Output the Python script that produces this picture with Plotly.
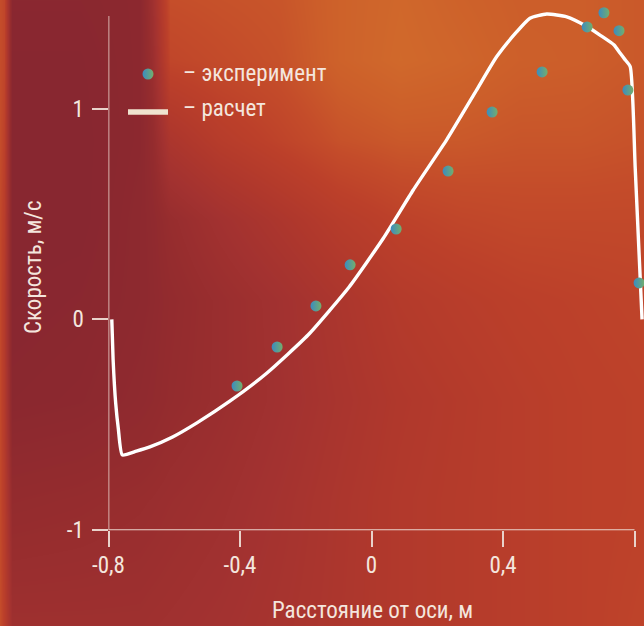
import plotly.graph_objects as go

# ---------------- data ----------------
exp_x = [-0.409, -0.287, -0.169, -0.065, 0.075, 0.233, 0.367, 0.519, 0.656, 0.707, 0.753, 0.780, 0.814]
exp_y = [-0.316, -0.131, 0.064, 0.259, 0.429, 0.704, 0.984, 1.174, 1.388, 1.455, 1.370, 1.088, 0.173]

calc_x = [-0.790, -0.786, -0.778, -0.770, -0.758, -0.715, -0.674, -0.605, -0.531, -0.430,
          -0.318, -0.193, -0.068, 0.036, 0.127, 0.229, 0.320, 0.381, 0.442, 0.482,
          0.533, 0.594, 0.653, 0.695, 0.738, 0.756, 0.770, 0.787, 0.802, 0.823]
calc_y = [0.000, -0.190, -0.400, -0.520, -0.643, -0.625, -0.605, -0.558, -0.491, -0.387,
          -0.254, -0.074, 0.154, 0.385, 0.614, 0.853, 1.089, 1.247, 1.365, 1.429,
          1.449, 1.436, 1.392, 1.349, 1.302, 1.264, 1.235, 1.199, 0.724, 0.000]

x_tickvals = [-0.8, -0.4, 0, 0.4, 0.8]
x_ticktext = ["-0,8", "-0,4", "0", "0,4", "0,8"]
y_tickvals = [-1, 0, 1]
y_ticktext = ["-1", "0", "1"]

x_title = "Расстояние от оси, м"
y_title = "Скорость, м/с"
legend_labels = ["– эксперимент", "– расчет"]

# ---------------- background (style only) ----------------
W, H = 644, 626
bg_cols = [0, 4, 12, 80, 140, 152, 170, 220, 280, 340, 400, 460, 520, 580, 644]
bg_rows = [0, 60, 140, 220, 300, 400, 500, 626]
bg_z = [
    [0.75, 0.70, 0.05, 0.05, 0.08, 0.30, 0.76, 0.78, 0.80, 0.88, 0.92, 0.88, 0.85, 0.85, 0.82],
    [0.75, 0.70, 0.03, 0.03, 0.08, 0.25, 0.70, 0.74, 0.78, 0.88, 0.93, 0.90, 0.86, 0.85, 0.82],
    [0.75, 0.65, 0.02, 0.02, 0.08, 0.18, 0.45, 0.58, 0.68, 0.78, 0.82, 0.82, 0.80, 0.80, 0.78],
    [0.72, 0.60, 0.02, 0.02, 0.10, 0.13, 0.22, 0.34, 0.46, 0.58, 0.66, 0.70, 0.72, 0.72, 0.72],
    [0.72, 0.55, 0.03, 0.05, 0.10, 0.12, 0.17, 0.25, 0.34, 0.45, 0.55, 0.60, 0.64, 0.66, 0.68],
    [0.72, 0.55, 0.06, 0.08, 0.13, 0.15, 0.19, 0.25, 0.33, 0.42, 0.50, 0.55, 0.60, 0.64, 0.66],
    [0.72, 0.58, 0.18, 0.20, 0.23, 0.24, 0.26, 0.30, 0.37, 0.45, 0.52, 0.56, 0.60, 0.64, 0.66],
    [0.75, 0.62, 0.30, 0.30, 0.30, 0.31, 0.32, 0.35, 0.40, 0.46, 0.52, 0.56, 0.60, 0.64, 0.68],
]
bg_scale = [[0.0, "#862630"], [0.2, "#952c2e"], [0.35, "#a33230"], [0.5, "#b0382c"],
            [0.65, "#bc402a"], [0.75, "#c44c2a"], [0.85, "#cc5e2a"], [1.0, "#d4722c"]]

FONT = "Liberation Sans Narrow, Roboto Condensed, DejaVu Sans Condensed, sans-serif"
TXT = "#f4e6de"
AXC = "#e9d3cb"

# plot area geometry (pixels)
left_px, right_px = 108.5, 644.0
bottom_px, top_px = 530.15, 4.0
x_unit = 328.75
y_unit = 210.75
x_range = [-0.8, -0.8 + (right_px - left_px) / x_unit]
y_range = [-1.0, -1.0 + (bottom_px - top_px) / y_unit]

fig = go.Figure()

fig.add_trace(go.Heatmap(
    x=bg_cols, y=bg_rows, z=bg_z, colorscale=bg_scale, zmin=0, zmax=1,
    zsmooth="best", showscale=False, hoverinfo="skip",
    xaxis="x", yaxis="y"))

# legend marker (pixel coordinates on background axes)
fig.add_trace(go.Scatter(
    x=[148], y=[74], mode="markers", showlegend=False, hoverinfo="skip",
    marker=dict(size=11, color="#3a8cc0",
                gradient=dict(type="horizontal", color="#74ae6c"),
                line=dict(width=0)),
    xaxis="x", yaxis="y"))

fig.add_trace(go.Scatter(
    x=calc_x, y=calc_y, mode="lines", name="расчет",
    line=dict(color="white", width=3.4, shape="spline", smoothing=0.5),
    xaxis="x2", yaxis="y2", cliponaxis=False, showlegend=False))

fig.add_trace(go.Scatter(
    x=exp_x, y=exp_y, mode="markers", name="эксперимент",
    marker=dict(size=11, color="#3a8cc0",
                gradient=dict(type="horizontal", color="#74ae6c"),
                line=dict(width=0)),
    xaxis="x2", yaxis="y2", cliponaxis=False, showlegend=False))

shapes = [
    # axis lines
    dict(type="line", xref="x2", yref="y2", x0=-0.8, x1=0.8, y0=-1, y1=-1,
         line=dict(color=AXC, width=1.6)),
    dict(type="line", xref="x2", yref="y2", x0=-0.8, x1=-0.8, y0=-1, y1=1.44,
         line=dict(color=AXC, width=1.6)),
    # legend line symbol
    dict(type="line", xref="x", yref="y", x0=128, x1=168, y0=112, y1=112,
         line=dict(color="#efe3cf", width=5.5)),
]

annotations = [
    dict(text=legend_labels[0], xref="x", yref="y", x=181, y=73, xanchor="left",
         yanchor="middle", showarrow=False, font=dict(family=FONT, size=23, color=TXT)),
    dict(text=legend_labels[1], xref="x", yref="y", x=181, y=108, xanchor="left",
         yanchor="middle", showarrow=False, font=dict(family=FONT, size=23, color=TXT)),
    dict(text=x_title, xref="x", yref="y", x=372, y=610, xanchor="center",
         yanchor="middle", showarrow=False, font=dict(family=FONT, size=23, color=TXT)),
    dict(text=y_title, xref="x", yref="y", x=33, y=267, xanchor="center",
         yanchor="middle", showarrow=False, textangle=-90,
         font=dict(family=FONT, size=23, color=TXT)),
]

fig.update_layout(
    width=W, height=H, autosize=False,
    margin=dict(l=0, r=0, t=0, b=0, pad=0, autoexpand=False),
    paper_bgcolor="#a83230", plot_bgcolor="rgba(0,0,0,0)",
    showlegend=False,
    xaxis=dict(domain=[0, 1], range=[0, W], visible=False, fixedrange=True, automargin=False),
    yaxis=dict(domain=[0, 1], range=[H, 0], visible=False, fixedrange=True, automargin=False),
    xaxis2=dict(domain=[left_px / W, right_px / W], range=x_range, anchor="y2",
                showgrid=False, zeroline=False, showline=False, automargin=False,
                tickmode="array", tickvals=x_tickvals, ticktext=x_ticktext,
                ticks="outside", ticklen=16, tickwidth=1.6, tickcolor=AXC,
                ticklabelstandoff=-2,
                tickfont=dict(family=FONT, size=23, color=TXT)),
    yaxis2=dict(domain=[(H - bottom_px) / H, (H - top_px) / H], range=y_range, anchor="x2",
                showgrid=False, zeroline=False, showline=False, automargin=False,
                tickmode="array", tickvals=y_tickvals, ticktext=y_ticktext,
                ticks="outside", ticklen=16, tickwidth=1.6, tickcolor=AXC,
                ticklabelstandoff=3,
                tickfont=dict(family=FONT, size=23, color=TXT)),
    shapes=shapes,
    annotations=annotations,
)

fig.write_html("out.html", config={"displayModeBar": False},
               post_script="document.body.style.margin='0';document.body.style.overflow='hidden';")
